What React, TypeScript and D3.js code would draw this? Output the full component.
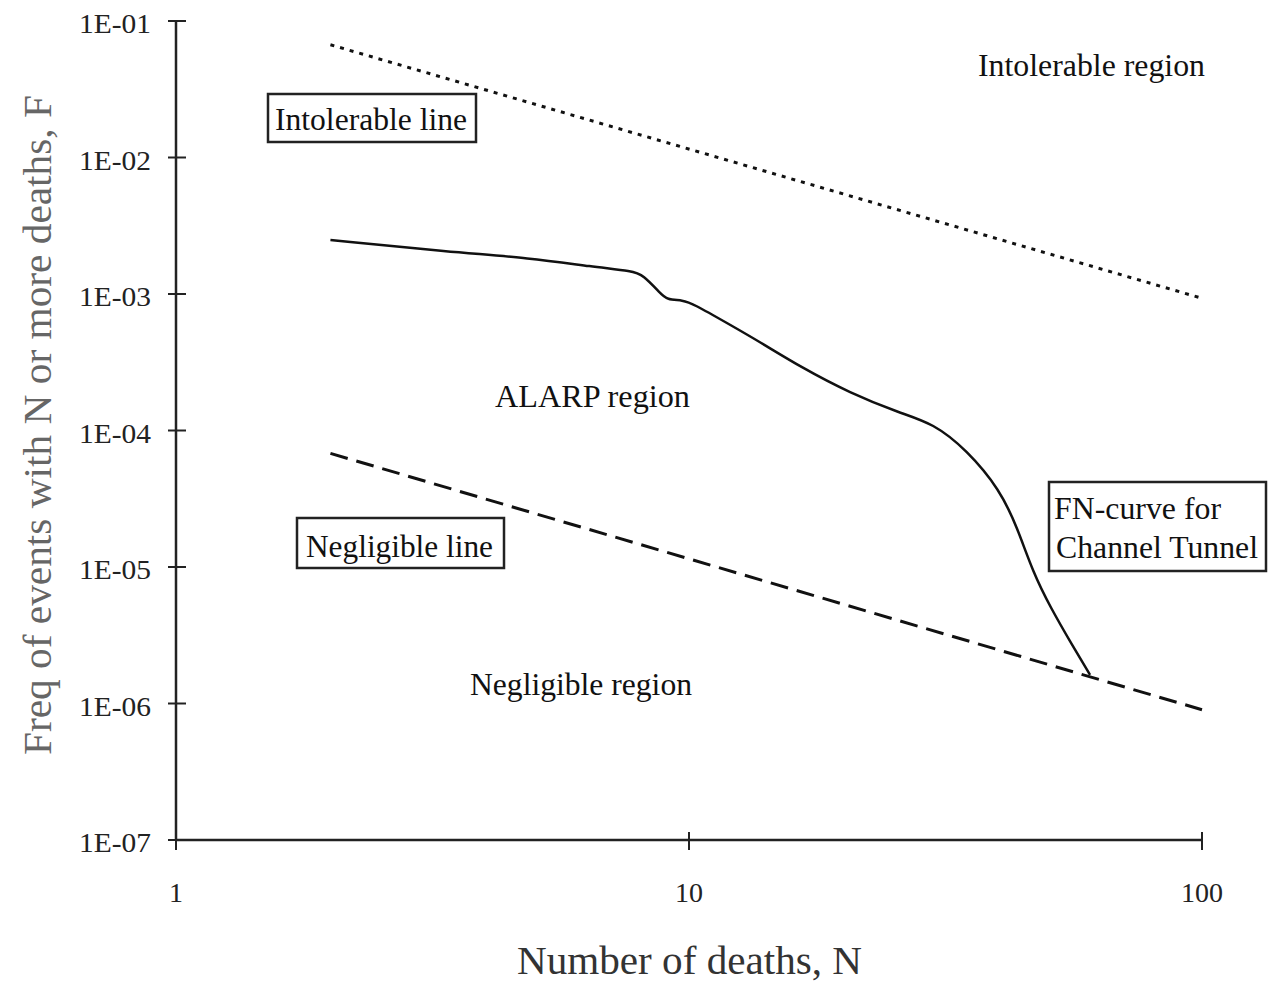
import React from "react";
import * as d3 from "d3";

const xTicks = [1, 10, 100];
const xTickLabels = ["1", "10", "100"];
const yTicks = [1e-1, 1e-2, 1e-3, 1e-4, 1e-5, 1e-6, 1e-7];
const yTickLabels = ["1E-01", "1E-02", "1E-03", "1E-04", "1E-05", "1E-06", "1E-07"];

// Intolerable and negligible criterion lines (N, F)
const intolerableN = [2, 100];
const intolerableF = [0.067, 0.00093];
const negligibleN = [2, 100];
const negligibleF = [6.8e-5, 9.0e-7];

// FN-curve for Channel Tunnel
const fnN = [2.0, 3.42, 4.9, 6.5, 7.78, 8.13, 8.78, 9.06, 9.73, 10.2, 11.86, 13.75, 16.5, 20.6, 25.8, 29.9, 34.8, 40.4, 43.6, 46.9, 50.6, 56.1, 60.5];
const fnF = [2.49e-3, 2.03e-3, 1.84e-3, 1.58e-3, 1.47e-3, 1.38e-3, 1.02e-3, 9.04e-4, 9.04e-4, 8.45e-4, 6.13e-4, 4.45e-4, 2.92e-4, 1.88e-4, 1.34e-4, 1.13e-4, 7.2e-5, 3.67e-5, 1.96e-5, 9.04e-6, 5.09e-6, 2.6e-6, 1.62e-6];

const W = 1268;
const H = 982;
const FONT = "'Liberation Serif', 'Times New Roman', serif";

export default function App() {
  const x = d3.scaleLog().domain([1, 100]).range([176, 1202]);
  const y = d3.scaleLog().domain([1e-7, 1e-1]).range([840, 21]);

  const line = d3
    .line<[number, number]>()
    .x((d) => x(d[0]))
    .y((d) => y(d[1]));
  const curve = d3
    .line<[number, number]>()
    .x((d) => x(d[0]))
    .y((d) => y(d[1]))
    .curve(d3.curveBasis);

  const intol = intolerableN.map((n, i) => [n, intolerableF[i]] as [number, number]);
  const negl = negligibleN.map((n, i) => [n, negligibleF[i]] as [number, number]);
  const fn = fnN.map((n, i) => [n, fnF[i]] as [number, number]);

  const ax = "#222";
  const LS = 31;
  return (
    <svg
      width={W}
      height={H}
      style={{ position: "absolute", left: 0, top: 0, background: "#fff" }}
      fontFamily={FONT}
    >
      <rect x={0} y={0} width={W} height={H} fill="#fff" />
      {/* axes */}
      <line x1={176} x2={176} y1={y(1e-1)} y2={y(1e-7)} stroke={ax} strokeWidth={2.5} />
      <line x1={x(1)} x2={x(100)} y1={840} y2={840} stroke={ax} strokeWidth={2.5} />
      {yTicks.map((t, i) => (
        <g key={"y" + i}>
          <line x1={168} x2={186} y1={y(t)} y2={y(t)} stroke={ax} strokeWidth={2} />
          <text x={151} y={y(t) + 12} textAnchor="end" fontSize={28} fill="#222" textLength={72} lengthAdjust="spacingAndGlyphs">
            {yTickLabels[i]}
          </text>
        </g>
      ))}
      {xTicks.map((t, i) => (
        <g key={"x" + i}>
          <line x1={x(t)} x2={x(t)} y1={832} y2={850} stroke={ax} strokeWidth={2} />
          <text x={x(t)} y={902} textAnchor="middle" fontSize={28} fill="#222">
            {xTickLabels[i]}
          </text>
        </g>
      ))}
      {/* axis titles */}
      <text x={689.5} y={974} textAnchor="middle" fontSize={40} fill="#333" textLength={345} lengthAdjust="spacingAndGlyphs">
        Number of deaths, N
      </text>
      <text
        transform="translate(51,425) rotate(-90)"
        textAnchor="middle"
        fontSize={40}
        fill="#666"
        textLength={660}
        lengthAdjust="spacingAndGlyphs"
      >
        Freq of events with N or more deaths, F
      </text>

      {/* lines */}
      <path d={line(intol) || ""} fill="none" stroke="#111" strokeWidth={3} strokeDasharray="4,6" />
      <path d={line(negl) || ""} fill="none" stroke="#111" strokeWidth={3} strokeDasharray="18,9" />
      <path d={curve(fn) || ""} fill="none" stroke="#111" strokeWidth={2.5} />

      {/* boxed labels */}
      <rect x={268} y={94} width={208} height={48} fill="#fff" stroke="#222" strokeWidth={2.5} />
      <text x={275} y={130} fontSize={LS} fill="#111" textLength={192} lengthAdjust="spacingAndGlyphs">
        Intolerable line
      </text>
      <rect x={297} y={518} width={207} height={50} fill="#fff" stroke="#222" strokeWidth={2.5} />
      <text x={306} y={557} fontSize={LS} fill="#111" textLength={187} lengthAdjust="spacingAndGlyphs">
        Negligible line
      </text>
      <rect x={1049} y={482} width={217} height={89} fill="#fff" stroke="#222" strokeWidth={2.5} />
      <text x={1054} y={519} fontSize={LS} fill="#111" textLength={167} lengthAdjust="spacingAndGlyphs">
        FN-curve for
      </text>
      <text x={1056} y={558} fontSize={LS} fill="#111" textLength={202} lengthAdjust="spacingAndGlyphs">
        Channel Tunnel
      </text>

      {/* region labels */}
      <text x={978} y={76} fontSize={LS} fill="#111" textLength={227} lengthAdjust="spacingAndGlyphs">
        Intolerable region
      </text>
      <text x={495} y={407} fontSize={LS} fill="#111" textLength={195} lengthAdjust="spacingAndGlyphs">
        ALARP region
      </text>
      <text x={470} y={695} fontSize={LS} fill="#111" textLength={222} lengthAdjust="spacingAndGlyphs">
        Negligible region
      </text>
    </svg>
  );
}
